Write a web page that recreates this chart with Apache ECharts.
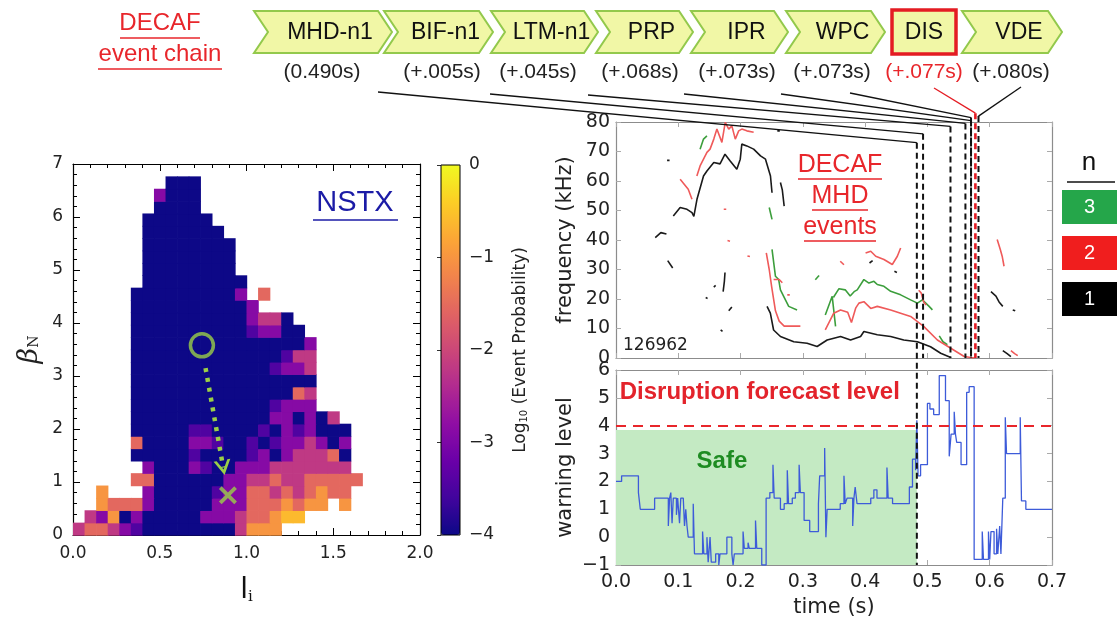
<!DOCTYPE html>
<html><head><meta charset="utf-8">
<script src="https://cdn.jsdelivr.net/npm/echarts@6.0.0/dist/echarts.min.js"></script>
<style>html,body{margin:0;padding:0;background:#fff}#c{width:1119px;height:619px}</style>
</head><body><div id="c"></div>
<script>
// ---------------- DATA ----------------
// Heat map (li vs betaN), 30 x 30 bins, codes -> log10 event probability
const NCOL = 30, NROW = 30, LI_MAX = 2.0, BETA_MAX = 7.0;
const codeVal = {B:-4.0, V:-3.45, P:-2.9, M:-2.2, S:-1.55, O:-1.0, Y:-0.6};
const heatRows = [
 "MSSMPVBBBBBBBBMOOO",          // row 0 (betaN 0-0.23)
 ".MPOBPBBBBBPPPMSSOYY",
 "..OSSSPBBBBBPPPSSSOSOO.O",
 "..O...PBBBBBVPPSSMSMSOSS",
 ".....SSBBBBBBPPMMSMMSSSSS",
 "......PBBBPVBBPPPMMMMMMM",
 ".....BBBBBVBBBBVPBPMMMSB",
 ".....SBBBBPPVBBVBVPPMPBP",
 ".....BBBBBVVBBBBVBPVPBBB",
 ".....BBBBBBBBBBBBPPBPBM",
 ".....BBBBBBBBBBBBVPPP",
 ".....BBBBBBBBBBBBBBSM",
 ".....BBBBBBBBBBBBBBBB",
 ".....BBBBBBBBBBBBVPPM",
 ".....BBBBBBBBBBBBBVMM",
 ".....BBBBBBBBBBBBBBBP",
 ".....BBBBBBBBBBVPPBB",
 ".....BBBBBBBBBBPMMB",
 ".....BBBBBBBBBBP",
 ".....BBBBBBBBBP.S",
 "......BBBBBBBBB",
 "......BBBBBBBB",
 "......BBBBBBBB",
 "......BBBBBBBB",
 "......BBBBBBB",
 "......BBBBBB",
 ".......BBBB",
 ".......PBBB",
 "........BBB"
];
const liTicks = [0, 0.5, 1.0, 1.5, 2.0];
const startPoint = [0.743, 3.58];
const endPoint = [0.893, 0.75];
const trendArrow = [[0.764, 3.15], [0.866, 1.27]];

// Frequency spectrogram traces (time s, kHz)
const freqN1 = [
 [[0.092,48.1],[0.103,51.0],[0.114,50.4],[0.122,49.3],[0.125,48.0],[0.130,53.8],[0.1405,61.7],[0.146,63.4],[0.157,66.3],[0.167,65.8],[0.175,69.1],[0.183,66.9],[0.194,64.0],[0.1995,67.4],[0.202,72.5],[0.210,71.9],[0.221,70.8],[0.232,68.5],[0.240,67.4],[0.248,61.7],[0.2505,56.0]],
 [[0.063,40.8],[0.072,42.5],[0.081,42.0]],
 [[0.083,33.0],[0.091,30.5]],
 [[0.082,67.0],[0.086,67.0]],
 [[0.172,22.5],[0.174,26.0],[0.175,29.0]],
 [[0.181,16.0],[0.186,17.3]],
 [[0.168,9.5],[0.171,9.0]],
 [[0.157,24.0],[0.160,24.6]],
 [[0.144,20.5],[0.147,20.2]],
 [[0.259,77.0],[0.263,77.0]],
 [[0.264,59.5],[0.267,57.0],[0.270,51.5]],
 [[0.2425,17.5],[0.2478,15.2],[0.253,9.5],[0.264,7.3],[0.2854,5.5],[0.3068,5.0],[0.3229,3.9],[0.339,6.1],[0.3605,7.3],[0.3766,6.1],[0.3927,7.3],[0.398,9.0],[0.4195,7.9],[0.441,7.3],[0.462,6.1],[0.4839,5.5],[0.505,3.8],[0.5213,1.6],[0.5375,0.2]],
 [[0.407,32.2],[0.412,33.0]],
 [[0.447,29.4],[0.451,29.0]],
 [[0.602,22.5],[0.610,21.0],[0.615,19.0],[0.621,17.5]],
 [[0.637,16.3],[0.641,16.0]],
 [[0.621,2.5],[0.628,1.5],[0.634,0.5]]
];
const freqN2 = [
 [[0.103,60.6],[0.116,57.2],[0.122,53.8]],
 [[0.1298,61.7],[0.135,65.1],[0.1405,67.4],[0.146,69.7],[0.151,70.8],[0.157,74.2],[0.162,77.6],[0.170,73.1],[0.1754,79.9],[0.181,77.6],[0.186,78.7],[0.1915,74.2],[0.197,77.0],[0.202,77.6],[0.210,77.0],[0.221,76.5]],
 [[0.173,50.4],[0.177,50.4]],
 [[0.179,39.8],[0.183,39.6]],
 [[0.211,34.6],[0.215,34.4]],
 [[0.2413,35.6],[0.246,30.0],[0.250,24.0],[0.256,16.0],[0.262,12.5],[0.270,10.8],[0.296,10.8]],
 [[0.253,26.6],[0.262,26.6],[0.267,25.5]],
 [[0.275,21.4],[0.279,21.4]],
 [[0.336,9.5],[0.3496,15.2],[0.3605,16.3],[0.372,15.5],[0.378,12.0],[0.385,17.0],[0.390,18.6],[0.398,19.1],[0.409,16.8],[0.4195,17.5],[0.441,16.3],[0.473,14.1],[0.494,10.7],[0.516,6.1],[0.5375,3.3],[0.559,0.5],[0.575,0.0]],
 [[0.360,32.8],[0.366,31.6]],
 [[0.4007,35.6],[0.409,36.2],[0.417,34.5],[0.4302,33.4],[0.4436,31.7],[0.4517,34.5],[0.457,37.3]],
 [[0.486,23.0],[0.490,22.0],[0.494,19.0],[0.498,18.0]],
 [[0.612,40.2],[0.617,36.8],[0.620,34.5],[0.623,31.1]],
 [[0.634,2.5],[0.640,1.5],[0.645,0.8]]
];
const freqN3 = [
 [[0.135,70.8],[0.1405,74.2],[0.146,75.3]],
 [[0.246,51.0],[0.2505,47.0]],
 [[0.2505,36.8],[0.256,27.7],[0.2612,26.6],[0.264,23.1],[0.2692,20.9],[0.2773,17.5],[0.2907,16.3]],
 [[0.336,14.6],[0.3471,20.9],[0.3525,10.7]],
 [[0.349,20.5],[0.358,23.5],[0.368,23.1],[0.376,21.0],[0.383,22.6],[0.3873,23.1],[0.398,26.6],[0.4061,25.4],[0.4141,26.0],[0.4195,24.9],[0.4302,24.3],[0.441,22.6],[0.457,21.4],[0.473,19.7],[0.4839,18.6],[0.4919,19.7],[0.5027,17.5],[0.508,16.3]],
 [[0.320,26.5],[0.326,28.0]],
 [[0.519,7.5],[0.525,5.5],[0.532,4.5]]
];

// Warning level (time s, level), stepwise
const warnLevel = [
 [0.000,2.0],[0.009,2.2],[0.036,1.6],[0.039,1.0],[0.062,1.4],
 [0.084,0.4],[0.086,1.4],[0.088,1.6],[0.090,0.5],[0.092,1.4],[0.097,0.8],[0.099,1.4],[0.102,0.5],[0.104,1.4],[0.108,1.4],[0.110,0.4],[0.112,1.0],
 [0.114,0.4],[0.116,0.0],[0.124,1.2],[0.126,-0.6],[0.139,0.2],[0.141,-0.6],[0.146,0.0],[0.148,-0.9],[0.151,0.0],[0.153,-0.9],[0.160,-0.6],[0.165,-1.0],[0.167,-0.6],
 [0.178,0.0],[0.186,-0.6],[0.188,-1.0],[0.190,-0.6],[0.204,0.2],[0.206,-0.4],[0.212,-0.2],[0.214,-0.4],[0.224,0.6],[0.226,-0.4],[0.234,-1.0],[0.241,1.4],[0.247,1.6],
 [0.252,2.6],[0.254,1.4],[0.264,1.0],[0.270,1.2],[0.275,2.4],[0.277,1.2],[0.283,1.4],[0.288,1.6],[0.294,2.6],[0.296,1.6],[0.302,0.6],[0.311,0.2],[0.325,1.2],[0.327,2.2],
 [0.335,3.2],[0.337,0.0],[0.339,1.0],[0.360,1.2],[0.366,2.2],[0.368,1.2],[0.371,1.4],[0.380,0.4],[0.382,1.4],[0.384,1.8],[0.387,1.2],[0.409,1.4],[0.414,1.7],[0.419,1.4],
 [0.435,2.5],[0.437,1.4],[0.444,1.2],[0.471,1.8],[0.476,2.8],[0.481,2.4],[0.483,4.2],[0.485,2.2],[0.489,2.6],[0.500,4.8],[0.504,4.6],[0.510,4.4],[0.519,5.8],[0.529,4.9],
 [0.535,2.9],[0.538,3.7],[0.543,4.5],[0.545,3.7],[0.547,3.4],[0.554,2.6],[0.563,5.2],[0.567,5.4],[0.575,-0.8],[0.588,0.2],[0.590,-0.8],[0.598,0.2],[0.600,-0.8],[0.602,0.2],
 [0.607,-0.6],[0.611,0.3],[0.613,-0.6],[0.616,0.4],[0.618,-0.6],[0.621,1.4],[0.625,4.3],[0.627,3.0],[0.649,4.3],[0.651,1.3],[0.658,1.0],[0.700,1.0]
];
const forecastLevel = 4;
const safeEnd = 0.483;

// DECAF event chain
const chainLabels = ['MHD-n1','BIF-n1','LTM-n1','PRP','IPR','WPC','DIS','VDE'];
const chainTimes = ['(0.490s)','(+.005s)','(+.045s)','(+.068s)','(+.073s)','(+.073s)','(+.077s)','(+.080s)'];
const eventLineTimes = [0.483, 0.493, 0.537, 0.561, 0.570, 0.570, 0.577, 0.582];
const eventBendFreq = [73, 76, 78.5, 79.5, 80.5, 81.5, 83, 82];
const legendN = ['3','2','1'];

// ---------------- CHART ----------------
const plasma = ['#0d0887','#41049d','#6a00a8','#8f0da4','#b12a90','#cc4778','#e16462','#f2844b','#fca636','#fcce25','#f0f921'];
const CW = LI_MAX / NCOL, CHH = BETA_MAX / NROW;
const heatData = [];
heatRows.forEach((row, r) => {
  row.padEnd(NCOL, '.').split('').forEach((ch, c) => {
    if (ch !== '.') heatData.push([(c + 0.5) * CW, (r + 0.5) * CHH, codeVal[ch]]);
  });
});
const minus = v => (v < 0 ? '\u2212' : '') + Math.abs(v);
const GREEN = '#9bcf47';
const chart = echarts.init(document.getElementById('c'));

const blackAx = {onZero:false, lineStyle:{color:'#000', width:1.2}};
const heatTick = {inside:true, length:7, lineStyle:{color:'#000'}};
const heatMinor = {show:true, splitNumber:5, length:4, lineStyle:{color:'#000'}};
const grayAx = {onZero:false, lineStyle:{color:'#8c8c8c', width:1.2}};
const grayTick = {inside:true, length:5, lineStyle:{color:'#aaa'}};
const lbl = {fontSize:19, color:'#222', fontFamily:'DejaVu Sans'};

const series = [
  {type:'custom', coordinateSystem:'cartesian2d', xAxisIndex:0, yAxisIndex:0, data:heatData, encode:{x:0, y:1}, silent:true,
   renderItem(params, api){
     const x = api.value(0), y = api.value(1);
     const p0 = api.coord([x - CW/2, y + CHH/2]);
     const p1 = api.coord([x + CW/2, y - CHH/2]);
     return {type:'rect', shape:{x:p0[0], y:p0[1], width:p1[0]-p0[0]+0.7, height:p1[1]-p0[1]+0.7}, style:{fill:api.visual('color')}};
   }},
  {type:'scatter', xAxisIndex:0, yAxisIndex:0, data:[startPoint], symbol:'circle', symbolSize:23, silent:true, z:5,
   itemStyle:{color:'rgba(0,0,0,0)', borderColor:GREEN, borderWidth:3.5},
   markLine:{silent:true, symbol:['none','path://M0,10 L5,0 L10,10 L8.2,10 L5,3.8 L1.8,10 Z'], symbolSize:[17,15],
     label:{show:false}, lineStyle:{color:GREEN, width:4.5, type:[4,6]},
     data:[[{coord:trendArrow[0]},{coord:trendArrow[1]}]]}},
  {type:'scatter', xAxisIndex:0, yAxisIndex:0, data:[endPoint], symbol:'path://M3,0 L10,7 L17,0 L20,3 L13,10 L20,17 L17,20 L10,13 L3,20 L0,17 L7,10 L0,3 Z', symbolSize:18, silent:true, z:5, itemStyle:{color:GREEN}}
];
const addSegs = (segs, color) => segs.forEach(s => series.push({type:'line', xAxisIndex:3, yAxisIndex:3, data:s, symbol:'none', silent:true, lineStyle:{color, width:1.6}}));
addSegs(freqN3, '#3c9e3c');
addSegs(freqN2, '#ef5a5a');
addSegs(freqN1, '#1a1a1a');
series.push({type:'line', xAxisIndex:5, yAxisIndex:5, data:warnLevel, step:'end', symbol:'none', silent:true, z:3,
  lineStyle:{color:'#3d5bd9', width:1.3},
  markArea:{silent:true, itemStyle:{color:'#c4eac3'}, data:[[{coord:[0,-1]},{coord:[safeEnd,3.85]}]]},
  markLine:{silent:true, symbol:'none', label:{show:false}, data:[{yAxis:forecastLevel, lineStyle:{color:'#e8262b', type:[10,7], width:2}}]}
});

const option = {
  animation:false, backgroundColor:'#fff',
  textStyle:{fontFamily:'DejaVu Sans'},
  grid:[
    {left:73, top:164, width:347, height:371, show:false},
    {left:441, top:165, width:19, height:370, show:true, borderColor:'#000', borderWidth:1, backgroundColor:'rgba(0,0,0,0)', z:10},
    {left:616, top:122, width:436, height:236, show:false},
    {left:616, top:370, width:436, height:203, show:false}
  ],
  visualMap:{type:'continuous', min:-4, max:0, seriesIndex:0, dimension:2, show:true, calculable:false, hoverLink:false,
    left:441, top:165, itemWidth:19, itemHeight:370, padding:0, text:null, inRange:{color:plasma}},
  xAxis:[
    {gridIndex:0, type:'value', min:0, max:LI_MAX, interval:0.5, position:'bottom', axisLine:blackAx, axisTick:heatTick, minorTick:heatMinor, splitLine:{show:false},
     axisLabel:{formatter:v => v.toFixed(1), fontSize:17, color:'#222', margin:10},
     name:'{l|l}{s|i}', nameLocation:'middle', nameGap:40,
     nameTextStyle:{rich:{l:{fontSize:28, color:'#111', fontFamily:'DejaVu Sans', verticalAlign:'bottom', lineHeight:30}, s:{fontSize:15, color:'#111', fontFamily:'DejaVu Serif', verticalAlign:'bottom', lineHeight:22}}}},
    {gridIndex:0, type:'value', min:0, max:LI_MAX, interval:0.5, position:'top', axisLine:blackAx, axisTick:heatTick, minorTick:heatMinor, splitLine:{show:false}, axisLabel:{show:false}},
    {gridIndex:1, type:'value', min:0, max:1, show:false},
    {gridIndex:2, type:'value', min:0, max:0.7, interval:0.1, position:'bottom', axisLine:grayAx, axisTick:grayTick, splitLine:{show:false}, axisLabel:{show:false}},
    {gridIndex:2, type:'value', min:0, max:0.7, interval:0.1, position:'top', axisLine:grayAx, axisTick:grayTick, splitLine:{show:false}, axisLabel:{show:false}},
    {gridIndex:3, type:'value', min:0, max:0.7, interval:0.1, position:'bottom', axisLine:grayAx, axisTick:grayTick, splitLine:{show:false},
     axisLabel:Object.assign({formatter:v => v.toFixed(1), margin:8}, lbl),
     name:'time (s)', nameLocation:'middle', nameGap:32, nameTextStyle:{fontSize:21, color:'#222', fontFamily:'DejaVu Sans'}},
    {gridIndex:3, type:'value', min:0, max:0.7, interval:0.1, position:'top', axisLine:grayAx, axisTick:grayTick, splitLine:{show:false}, axisLabel:{show:false}}
  ],
  yAxis:[
    {gridIndex:0, type:'value', min:0, max:BETA_MAX, interval:1, position:'left', axisLine:blackAx, axisTick:heatTick, minorTick:heatMinor, splitLine:{show:false},
     axisLabel:{fontSize:17, color:'#222', margin:10},
     name:'{b|β}{s|N}', nameLocation:'middle', nameGap:30,
     nameTextStyle:{rich:{b:{fontSize:27, fontStyle:'italic', fontFamily:'DejaVu Serif', color:'#222'}, s:{fontSize:14, fontFamily:'DejaVu Serif', color:'#222', padding:[10,0,0,0]}}}},
    {gridIndex:0, type:'value', min:0, max:BETA_MAX, interval:1, position:'right', axisLine:blackAx, axisTick:heatTick, minorTick:heatMinor, splitLine:{show:false}, axisLabel:{show:false}},
    {gridIndex:1, type:'value', min:-4, max:0, interval:1, position:'right', axisLine:{show:false}, axisTick:{inside:true, length:4, lineStyle:{color:'#333'}}, splitLine:{show:false},
     axisLabel:{formatter:minus, fontSize:17, color:'#222', margin:9},
     name:'{a|Log}{s|10}{a| (Event Probability)}', nameLocation:'middle', nameGap:52,
     nameTextStyle:{rich:{a:{fontSize:17, color:'#222', fontFamily:'DejaVu Sans'}, s:{fontSize:10, color:'#222', fontFamily:'DejaVu Sans', padding:[7,0,0,0]}}}},
    {gridIndex:2, type:'value', min:0, max:80, interval:10, position:'left', axisLine:grayAx, axisTick:grayTick, splitLine:{show:false},
     axisLabel:Object.assign({margin:6}, lbl),
     name:'frequency (kHz)', nameLocation:'middle', nameGap:40, nameTextStyle:{fontSize:21, color:'#222', fontFamily:'DejaVu Sans'}},
    {gridIndex:2, type:'value', min:0, max:80, interval:10, position:'right', axisLine:grayAx, axisTick:grayTick, splitLine:{show:false}, axisLabel:{show:false}},
    {gridIndex:3, type:'value', min:-1, max:6, interval:1, position:'left', axisLine:grayAx, axisTick:grayTick, splitLine:{show:false},
     axisLabel:Object.assign({margin:6, formatter:minus}, lbl),
     name:'warning level', nameLocation:'middle', nameGap:40, nameTextStyle:{fontSize:21, color:'#222', fontFamily:'DejaVu Sans'}},
    {gridIndex:3, type:'value', min:-1, max:6, interval:1, position:'right', axisLine:grayAx, axisTick:grayTick, splitLine:{show:false}, axisLabel:{show:false}}
  ],
  series
};
chart.setOption(option);

// ---------------- ANNOTATIONS ----------------
const P = (t, f) => chart.convertToPixel({xAxisIndex:3, yAxisIndex:3}, [t, f]);
const W = (t, v) => chart.convertToPixel({xAxisIndex:5, yAxisIndex:5}, [t, v]);
const txt = (x, y, text, font, fill, align) => ({type:'text', x, y, z:20, style:{text, font, fill, textAlign:align || 'center', textVerticalAlign:'middle', align:align || 'center', verticalAlign:'middle'}});
const ln = (x1, y1, x2, y2, stroke, w, dash) => ({type:'line', z:15, shape:{x1, y1, x2, y2}, style:{stroke, lineWidth:w, lineDash:dash || null}});
const g = [];
const RED = '#e8262b';

// event chain
const chainBoxes = [[254,392],[384,493],[491,598],[596,693],[691,788],[786,885],[892,956],[962,1062]];
const chainTimeX = [322,442,538,640,737,832,924,1011];
const CT = 11, CB = 53, CM = (CT + CB) / 2, D = 14;
chainLabels.forEach((lab, i) => {
  const [xl, xr] = chainBoxes[i];
  if (lab === 'DIS') {
    g.push({type:'rect', z:12, shape:{x:xl, y:CT - 1, width:xr - xl, height:CB - CT + 2}, style:{fill:'#f1f7a6', stroke:'#e41c23', lineWidth:3.5}});
    g.push(txt((xl + xr) / 2, CM + 1, lab, '23px "Liberation Sans"', '#111'));
  } else {
    g.push({type:'polygon', z:12, shape:{points:[[xl,CT],[xr-D,CT],[xr,CM],[xr-D,CB],[xl,CB],[xl+D,CM]]}, style:{fill:'#f1f7a6', stroke:'#93c94c', lineWidth:2}});
    g.push(txt((xl + D + xr) / 2, CM + 1, lab, '23px "Liberation Sans"', '#111'));
  }
  g.push(txt(chainTimeX[i], 72, chainTimes[i], '21px "Liberation Sans"', lab === 'DIS' ? RED : '#222'));
});
g.push(txt(160, 23, 'DECAF', '24px "Liberation Sans"', RED));
g.push(ln(120, 38, 200, 38, RED, 1.4));
g.push(txt(160, 54, 'event chain', '24px "Liberation Sans"', RED));
g.push(ln(98, 69, 222, 69, RED, 1.4));

// connectors to event lines
const connStart = [[378,92],[490,94],[588,95],[684,94],[781,94],[850,93],[934,88],[1021,87]];
const freqBottom = P(0, 0)[1];
const warnBottom = W(0, -1)[1];
eventLineTimes.forEach((t, i) => {
  const [bx, by] = P(t, eventBendFreq[i]);
  const isDis = chainLabels[i] === 'DIS';
  const col = isDis ? '#e41c23' : '#111';
  g.push({type:'polyline', z:15, shape:{points:[connStart[i], [bx, by]]}, style:{stroke:col, lineWidth:1.3, fill:null}});
  const yEnd = i === 0 ? warnBottom : freqBottom;
  g.push(ln(bx, by, bx, yEnd, col, isDis ? 2.6 : 2, [6, 4]));
});

// NSTX label
g.push(txt(355, 203, 'NSTX', '29px "Liberation Sans"', '#1b1ba6'));
g.push(ln(313, 220, 398, 220, '#1b1ba6', 1.5));
// DECAF MHD events
[['DECAF', 165, 84], ['MHD', 196, 56], ['events', 227, 72]].forEach(([s, y, w]) => {
  g.push(txt(840, y, s, '25px "Liberation Sans"', RED));
  g.push(ln(840 - w / 2, y + 14, 840 + w / 2, y + 14, RED, 1.4));
});
g.push(txt(623, 346, '126962', '17px "DejaVu Sans"', '#222', 'left'));
// warning panel texts
const dp = W(0.006, 5.2);
g.push(txt(dp[0], dp[1], 'Disruption forecast level', 'bold 24px "Liberation Sans"', '#e3232b', 'left'));
const sp = W(0.170, 2.72);
g.push(txt(sp[0], sp[1], 'Safe', 'bold 24px "Liberation Sans"', '#1e8c22'));
// n legend
g.push(txt(1089, 163, 'n', '26px "Liberation Sans"', '#111'));
g.push(ln(1067, 182, 1115, 182, '#111', 1.5));
const legendColors = ['#25a64a', '#f01e1e', '#000000'];
legendN.forEach((s, i) => {
  const y = 190 + i * 46;
  g.push({type:'rect', z:12, shape:{x:1062, y, width:55, height:34}, style:{fill:legendColors[i]}});
  g.push(txt(1089.5, y + 17, s, '20px "Liberation Sans"', '#fff'));
});
chart.setOption({graphic:{elements:g}});
</script></body></html>
